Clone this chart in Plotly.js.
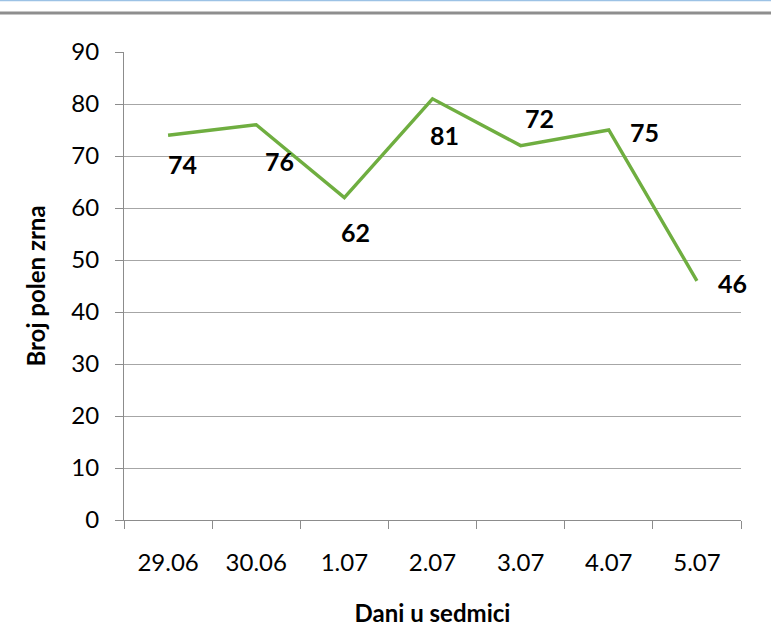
<!DOCTYPE html>
<html>
<head>
<meta charset="utf-8">
<script src="https://cdn.plot.ly/plotly-3.0.1.min.js"></script>
<style>
  html, body { margin: 0; padding: 0; background: #ffffff; }
  #chart { width: 771px; height: 637px; }
</style>
</head>
<body>
<div id="chart"></div>
<script>
// Data
const days = ["29.06", "30.06", "1.07", "2.07", "3.07", "4.07", "5.07"];
const pollenCounts = [74, 76, 62, 81, 72, 75, 46];
const yTickValues = [0, 10, 20, 30, 40, 50, 60, 70, 80, 90];

// Label offsets (style, pixels) reproducing the reference label placement
const labelShiftX = [14, 23, 11, 12, 19, 36, 36];
const labelShiftY = [-29, -36, -34, -36, 28, -2, -2];

const FONT = "Lato, 'Open Sans', 'DejaVu Sans', sans-serif";

const trace = {
  type: "scatter",
  mode: "lines",
  x: days,
  y: pollenCounts,
  line: { color: "#6FAE40", width: 3.4 },
  hoverinfo: "x+y",
  showlegend: false
};

// On a category axis, annotation x is given as the category index
const annotations = pollenCounts.map((v, i) => ({
  x: i,
  y: v,
  xref: "x",
  yref: "y",
  text: String(v),
  showarrow: false,
  xanchor: "center",
  yanchor: "middle",
  xshift: labelShiftX[i],
  yshift: labelShiftY[i],
  font: { family: FONT, size: 25, color: "#000000", weight: "bold" }
}));

const layout = {
  width: 771,
  height: 637,
  paper_bgcolor: "#ffffff",
  plot_bgcolor: "#ffffff",
  margin: { l: 124, r: 30, t: 52, b: 117, pad: 0 },
  font: { family: FONT, size: 24, color: "#000000" },
  showlegend: false,
  xaxis: {
    type: "category",
    categoryorder: "array",
    categoryarray: days,
    range: [-0.5, 6.5],
    tickson: "boundaries",
    ticks: "outside",
    ticklen: 8,
    tickwidth: 1,
    tickcolor: "#8C8C8C",
    showgrid: false,
    zeroline: false,
    showline: true,
    linecolor: "#8C8C8C",
    linewidth: 1,
    ticklabelstandoff: 21,
    tickfont: { family: FONT, size: 24, color: "#000000" },
    title: {
      text: "Dani u sedmici",
      font: { family: FONT, size: 24, color: "#000000", weight: "bold" },
      standoff: 30
    },
    fixedrange: true
  },
  yaxis: {
    range: [0, 90],
    tickmode: "array",
    tickvals: yTickValues,
    ticktext: yTickValues.map(String),
    ticks: "outside",
    ticklen: 8,
    tickwidth: 1,
    tickcolor: "#8C8C8C",
    showgrid: true,
    gridcolor: "#A6A6A6",
    gridwidth: 1,
    zeroline: false,
    showline: true,
    linecolor: "#8C8C8C",
    linewidth: 1,
    ticklabelstandoff: 11,
    tickfont: { family: FONT, size: 24, color: "#000000" },
    title: {
      text: "Broj polen zrna",
      font: { family: FONT, size: 24, color: "#000000", weight: "bold" },
      standoff: 18
    },
    fixedrange: true
  },
  annotations: annotations,
  shapes: [
    { type: "line", xref: "paper", yref: "paper", x0: -0.21, x1: 1.06, y0: 1.1103, y1: 1.1103,
      line: { color: "#9CC2E5", width: 1.5 } },
    { type: "line", xref: "paper", yref: "paper", x0: -0.21, x1: 1.06, y0: 1.0833, y1: 1.0833,
      line: { color: "#8E8E8E", width: 3 } }
  ]
};

Plotly.newPlot("chart", [trace], layout, { displayModeBar: false, staticPlot: true });
</script>
</body>
</html>
